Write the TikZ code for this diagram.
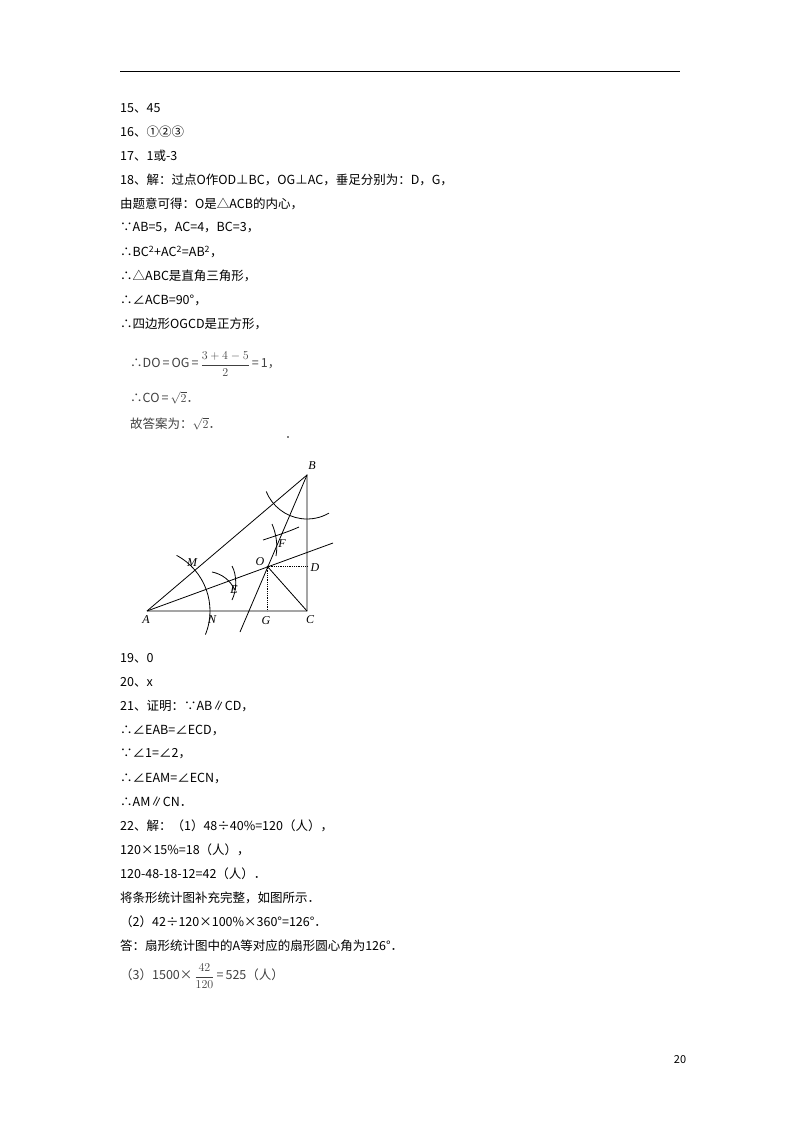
\documentclass[tikz,border=0pt]{standalone}
\usepackage{fontspec}
\setmainfont{Noto Sans CJK SC}
\newfontfamily\serifit{Liberation Serif}
\begin{document}
\begin{tikzpicture}[x=1pt,y=-1pt,
  txt/.style={anchor=west,inner sep=0pt,font=\fontsize{12.5}{14}\selectfont},
  gtxt/.style={anchor=west,inner sep=0pt,font=\fontsize{12.5}{14}\selectfont,text=black!75},
  lbl/.style={inner sep=1pt,font=\serifit\itshape\fontsize{12}{14}\selectfont},
  geo/.style={line width=0.8pt}]
\useasboundingbox (0,0) rectangle (800,1132);
\draw[line width=1pt] (120,72) -- (680,72);
\node[txt] (l1) at (120,108) {15、45};
\node[txt] (l2) at (120,132) {16、①②③};
\node[txt] (l3) at (120,156) {17、1或-3};
\node[txt] (l4) at (120,180) {18、解：过点O作OD⊥BC，OG⊥AC，垂足分别为：D，G，};
\node[txt] (l5) at (120,204) {由题意可得：O是△ACB的内心，};
\node[txt] (l6) at (120,228) {∵AB=5，AC=4，BC=3，};
\node[txt] (l7) at (120,252) {∴BC\textsuperscript{2}+AC\textsuperscript{2}=AB\textsuperscript{2}，};
\node[txt] (l8) at (120,276) {∴△ABC是直角三角形，};
\node[txt] (l9) at (120,300) {∴∠ACB=90°，};
\node[txt] (l10) at (120,324) {∴四边形OGCD是正方形，};
\node[gtxt] (l11) at (130,364) {∴DO\,=\,OG\,=\,$\displaystyle\frac{3+4-5}{2}$\,=\,1，};
\node[gtxt] (l12) at (130,398) {∴CO\,=\,$\sqrt{2}$．};
\node[gtxt] (l13) at (130,424) {故答案为：$\sqrt{2}$．};
\fill (288,437) circle (0.8);
% figure
\coordinate (A) at (147,611);
\coordinate (C) at (307,611);
\coordinate (B) at (307,475);
\coordinate (O) at (267,566);
\coordinate (D) at (307,566);
\coordinate (G) at (267,611);
\coordinate (P) at (333,543);
\coordinate (Q) at (240,632);
\draw[geo] (A) -- (B) -- (C) -- (A);
\draw[geo] (A) -- (P);
\draw[geo] (B) -- (Q);
\draw[geo] (O) -- (C);
\draw[geo,densely dotted] (O) -- (D);
\draw[geo,densely dotted] (O) -- (G);
\draw[geo] (A) ++(-62:63) arc[start angle=-62,end angle=22,radius=63];
\draw[geo] (B) ++(158:44) arc[start angle=158,end angle=60,radius=44];
\draw[geo] (272,524) .. controls (276,533) and (278,545) .. (276,556);
\draw[geo] (263,540) .. controls (275,536) and (288,532) .. (299,527);
\draw[geo] (212,572) .. controls (222,574) and (230,580) .. (235,590);
\draw[geo] (232,566) .. controls (237,575) and (237,590) .. (232,600);
\node[lbl] (nB) at (312,466) {B};
\node[lbl] (nA) at (146,620) {A};
\node[lbl] (nC) at (310,620) {C};
\node[lbl] (nG) at (266,621) {G};
\node[lbl] (nN) at (212,620) {N};
\node[lbl] (nM) at (192,563) {M};
\node[lbl] (nO) at (260,562) {O};
\node[lbl] (nD) at (315,568) {D};
\node[lbl] (nE) at (234,590) {E};
\node[lbl] (nF) at (282,544) {F};
\node[txt] (m1) at (120,658) {19、0};
\node[txt] (m2) at (120,682) {20、x};
\node[txt] (m3) at (120,706) {21、证明：∵AB∥CD，};
\node[txt] (m4) at (120,730) {∴∠EAB=∠ECD，};
\node[txt] (m5) at (120,754) {∵∠1=∠2，};
\node[txt] (m6) at (120,778) {∴∠EAM=∠ECN，};
\node[txt] (m7) at (120,802) {∴AM∥CN．};
\node[txt] (m8) at (120,826) {22、解：（1）48÷40\%=120（人），};
\node[txt] (m9) at (120,850) {120×15\%=18（人），};
\node[txt] (m10) at (120,874) {120-48-18-12=42（人）．};
\node[txt] (m11) at (120,898) {将条形统计图补充完整，如图所示．};
\node[txt] (m12) at (120,922) {（2）42÷120×100\%×360°=126°．};
\node[txt] (m13) at (120,946) {答：扇形统计图中的A等对应的扇形圆心角为126°．};
\node[gtxt] (m14) at (120,976) {（3）1500×\,$\displaystyle\frac{42}{120}$\,=\,525（人）};
\node[inner sep=0pt,font=\fontsize{11}{13}\selectfont] (pg) at (680,1060) {20};
\end{tikzpicture}
\end{document}
